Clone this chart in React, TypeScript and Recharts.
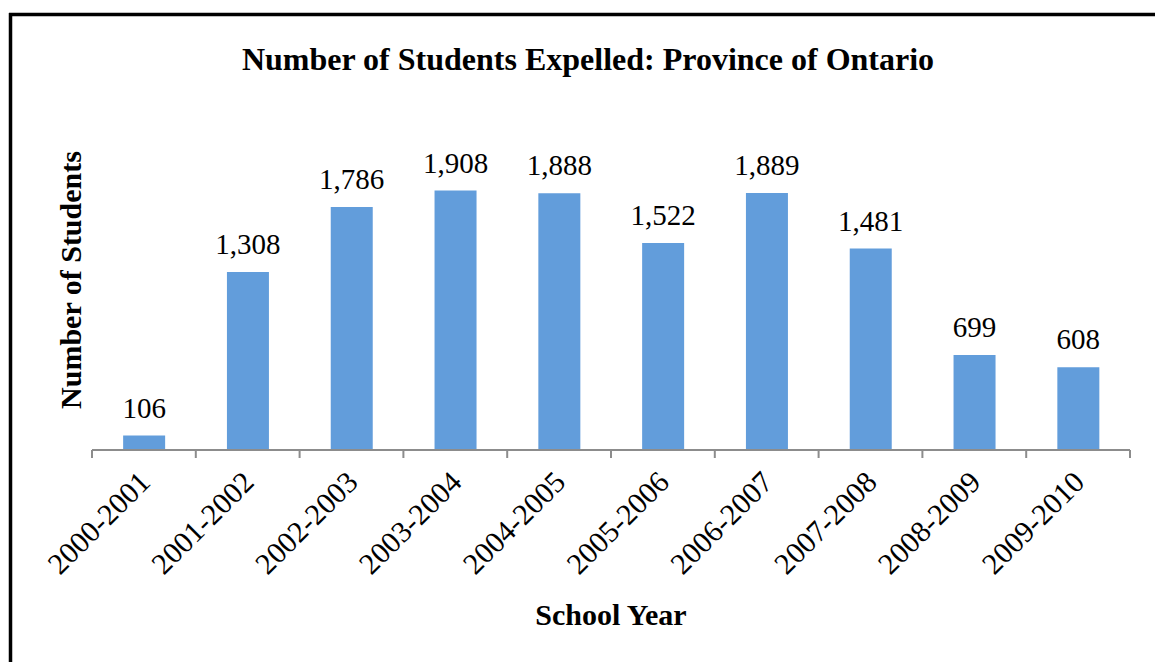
import React from "react";
import { BarChart, Bar, XAxis, YAxis, LabelList } from "recharts";

const schoolYears = [
  "2000-2001",
  "2001-2002",
  "2002-2003",
  "2003-2004",
  "2004-2005",
  "2005-2006",
  "2006-2007",
  "2007-2008",
  "2008-2009",
  "2009-2010",
];
const studentsExpelled = [106, 1308, 1786, 1908, 1888, 1522, 1889, 1481, 699, 608];

const data = schoolYears.map((year, i) => ({ year, students: studentsExpelled[i] }));

const SERIF = '"Liberation Serif", "Times New Roman", Times, serif';

const CustomTick = (props: any) => {
  const { x, y, payload, width, visibleTicksCount } = props;
  const band = width / visibleTicksCount;
  const left = x - band / 2;
  const right = x + band / 2;
  const tx = x + 8;
  const ty = y + 26;
  return (
    <g>
      <line x1={left} y1={y - 8} x2={left} y2={y} stroke="#8c8c8c" strokeWidth={2} />
      {props.index === visibleTicksCount - 1 && (
        <line x1={right} y1={y - 8} x2={right} y2={y} stroke="#8c8c8c" strokeWidth={2} />
      )}
      <text
        x={tx}
        y={ty}
        transform={`rotate(-45, ${tx}, ${ty})`}
        textAnchor="end"
        fontFamily={SERIF}
        fontSize={30}
        fill="#000"
        style={{ fontFamily: SERIF }}
      >
        {payload.value}
      </text>
    </g>
  );
};

export default function App() {
  return (
    <div style={{ position: "absolute", left: 0, top: 0, width: 1155, height: 662, background: "#fff", fontFamily: SERIF }}>
      <BarChart
        width={1155}
        height={662}
        data={data}
        margin={{ top: 110, right: 25, bottom: 62, left: 92 }}
        barCategoryGap="30%"
        style={{ fontFamily: SERIF }}
      >
        <XAxis
          dataKey="year"
          interval={0}
          height={150}
          axisLine={{ stroke: "#8c8c8c", strokeWidth: 2 }}
          tickLine={false}
          tick={<CustomTick />}
        />
        <YAxis hide width={0} domain={[0, 2500]} />
        <Bar dataKey="students" fill="#629DDB" isAnimationActive={false}>
          <LabelList
            dataKey="students"
            position="top"
            offset={18}
            formatter={(v: any) => Number(v).toLocaleString("en-US")}
            fontFamily={SERIF}
            fontSize={29}
            fill="#000"
            style={{ fontFamily: SERIF, fontSize: 29, fill: "#000" }}
          />
        </Bar>
      </BarChart>
      <svg
        width={1155}
        height={662}
        style={{ position: "absolute", left: 0, top: 0, pointerEvents: "none" }}
      >
        <line x1={9} y1={14.5} x2={1155} y2={14.5} stroke="#000" strokeWidth={3.5} />
        <line x1={10.5} y1={13} x2={10.5} y2={662} stroke="#000" strokeWidth={3.5} />
        <text
          x={588}
          y={70}
          textAnchor="middle"
          fontFamily={SERIF}
          fontWeight="bold"
          fontSize={32}
          fill="#000"
        >
          Number of Students Expelled: Province of Ontario
        </text>
        <text
          x={81}
          y={280}
          transform="rotate(-90, 81, 280)"
          textAnchor="middle"
          fontFamily={SERIF}
          fontWeight="bold"
          fontSize={30}
          fill="#000"
        >
          Number of Students
        </text>
        <text
          x={611}
          y={625}
          textAnchor="middle"
          fontFamily={SERIF}
          fontWeight="bold"
          fontSize={30}
          fill="#000"
        >
          School Year
        </text>
      </svg>
    </div>
  );
}
